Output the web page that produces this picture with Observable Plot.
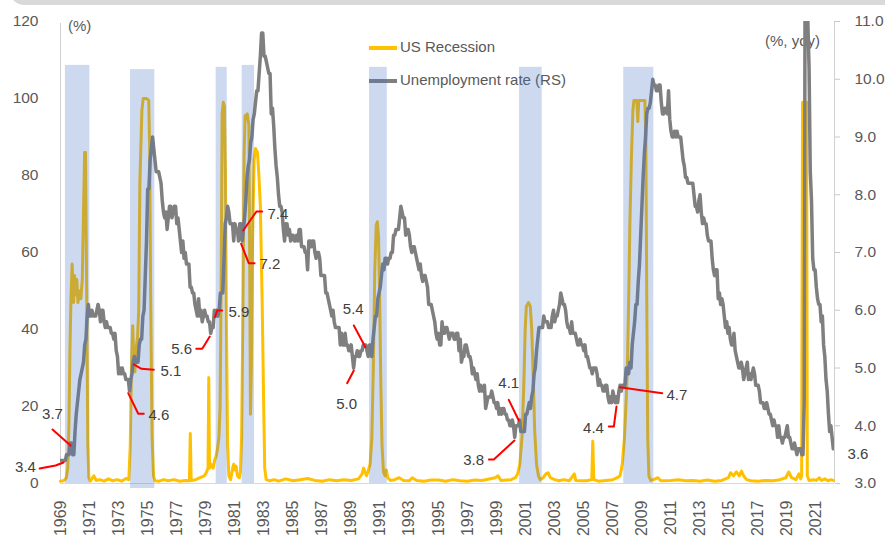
<!DOCTYPE html>
<html><head><meta charset="utf-8">
<script src="https://cdn.jsdelivr.net/npm/d3@7"></script>
<script src="https://cdn.jsdelivr.net/npm/@observablehq/plot@0.6"></script>
<style>
body{margin:0;background:#fff;font-family:"Liberation Sans",Arial,sans-serif;}
#wrap{position:relative;width:885px;height:547px;overflow:hidden;background:#fff;}
#band{position:absolute;left:10px;top:-15px;width:900px;height:20px;background:#d9d9d9;border-bottom-left-radius:14px;}
.t{position:absolute;font-size:15px;line-height:18px;color:#595959;white-space:nowrap;}
.sw{position:absolute;left:369px;width:28px;}
#chart{position:absolute;left:0;top:0;}
</style></head><body>
<div id="wrap">
  <div id="band"></div>
  <div class="sw" style="top:46px;height:3.5px;background:#FFC000"></div>
  <div class="t" style="left:400px;top:37.5px">US Recession</div>
  <div class="sw" style="top:78.5px;height:4px;background:#7f7f7f"></div>
  <div class="t" style="left:400px;top:70.5px">Unemployment rate (RS)</div>
  <div class="t" style="left:68px;top:17px">(%)</div>
  <div class="t" style="left:765px;top:32px">(%, yoy)</div>
  <div id="chart"></div>
</div>
<script>
// ---- data ----
const unemploymentStart = 1969; // monthly values from Jan 1969
const unemploymentRate = [
3.4,3.4,3.4,3.4,3.4,3.5,3.5,3.5,3.7,3.7,3.5,3.5,
3.9,4.2,4.4,4.6,4.8,4.9,5.0,5.1,5.4,5.5,5.9,6.1,
5.9,5.9,6.0,5.9,5.9,5.9,6.0,6.1,6.0,5.8,6.0,6.0,
5.8,5.7,5.8,5.7,5.7,5.7,5.6,5.6,5.5,5.6,5.3,5.2,
4.9,5.0,4.9,5.0,4.9,4.9,4.8,4.8,4.8,4.6,4.8,4.9,
5.1,5.2,5.1,5.1,5.1,5.4,5.5,5.5,5.9,6.0,6.6,7.2,
8.1,8.1,8.6,8.8,9.0,8.8,8.6,8.4,8.4,8.4,8.3,8.2,
7.9,7.7,7.6,7.7,7.4,7.6,7.8,7.8,7.6,7.7,7.8,7.8,
7.5,7.6,7.4,7.2,7.0,7.2,6.9,7.0,6.8,6.8,6.8,6.4,
6.4,6.3,6.3,6.1,6.0,5.9,6.2,5.9,6.0,5.8,5.9,6.0,
5.9,5.9,5.8,5.8,5.6,5.7,5.7,6.0,5.9,6.0,5.9,6.0,
6.3,6.3,6.3,6.9,7.5,7.6,7.8,7.7,7.5,7.5,7.5,7.2,
7.5,7.4,7.4,7.2,7.5,7.5,7.2,7.4,7.6,7.9,8.3,8.5,
8.6,8.9,9.0,9.3,9.4,9.6,9.8,9.8,10.1,10.4,10.8,10.8,
10.4,10.4,10.3,10.2,10.1,10.1,9.4,9.5,9.2,8.8,8.5,8.3,
8.0,7.8,7.8,7.7,7.4,7.2,7.5,7.5,7.3,7.4,7.2,7.3,
7.3,7.2,7.2,7.3,7.2,7.4,7.4,7.1,7.1,7.1,7.0,7.0,
6.7,7.2,7.2,7.1,7.2,7.2,7.0,6.9,7.0,7.0,6.9,6.6,
6.6,6.6,6.6,6.3,6.3,6.2,6.1,6.0,5.9,6.0,5.8,5.7,
5.7,5.7,5.7,5.4,5.6,5.4,5.4,5.6,5.4,5.4,5.3,5.3,
5.4,5.2,5.0,5.2,5.2,5.3,5.2,5.2,5.3,5.3,5.4,5.4,
5.4,5.3,5.2,5.4,5.4,5.2,5.5,5.7,5.9,5.9,6.2,6.3,
6.4,6.6,6.8,6.7,6.9,6.9,6.8,6.9,6.9,7.0,7.0,7.3,
7.3,7.4,7.4,7.4,7.6,7.8,7.7,7.6,7.6,7.3,7.4,7.4,
7.3,7.1,7.0,7.1,7.1,7.0,6.9,6.8,6.7,6.8,6.6,6.5,
6.6,6.6,6.5,6.4,6.1,6.1,6.1,6.0,5.9,5.8,5.6,5.5,
5.6,5.4,5.4,5.8,5.6,5.6,5.7,5.7,5.6,5.5,5.6,5.6,
5.6,5.5,5.5,5.6,5.6,5.3,5.5,5.1,5.2,5.2,5.4,5.4,
5.3,5.2,5.2,5.1,4.9,5.0,4.9,4.8,4.9,4.7,4.6,4.7,
4.6,4.6,4.7,4.3,4.4,4.5,4.5,4.5,4.6,4.5,4.4,4.4,
4.3,4.4,4.2,4.3,4.2,4.3,4.3,4.2,4.2,4.1,4.1,4.0,
4.0,4.1,4.0,3.8,4.0,4.0,4.0,4.1,3.9,3.9,3.9,3.9,
4.2,4.2,4.3,4.4,4.3,4.5,4.6,4.9,5.0,5.3,5.5,5.7,
5.7,5.7,5.7,5.9,5.8,5.8,5.8,5.7,5.7,5.7,5.9,6.0,
5.8,5.9,5.9,6.0,6.1,6.3,6.2,6.1,6.1,6.0,5.8,5.7,
5.7,5.6,5.8,5.6,5.6,5.6,5.5,5.4,5.4,5.5,5.4,5.4,
5.3,5.4,5.2,5.2,5.1,5.0,5.0,4.9,5.0,5.0,5.0,4.9,
4.7,4.8,4.7,4.7,4.6,4.6,4.7,4.7,4.5,4.4,4.5,4.4,
4.6,4.5,4.4,4.5,4.4,4.6,4.7,4.6,4.7,4.7,4.7,5.0,
5.0,4.9,5.1,5.0,5.4,5.6,5.8,6.1,6.1,6.5,6.8,7.3,
7.8,8.3,8.7,9.0,9.4,9.5,9.5,9.6,9.8,10.0,9.9,9.9,
9.8,9.8,9.9,9.9,9.6,9.4,9.4,9.5,9.5,9.4,9.8,9.3,
9.1,9.0,9.0,9.1,9.0,9.1,9.0,9.0,9.0,8.8,8.6,8.5,
8.3,8.3,8.2,8.2,8.2,8.2,8.2,8.0,7.8,7.8,7.7,7.9,
8.0,7.7,7.5,7.6,7.5,7.5,7.3,7.2,7.2,7.2,6.9,6.7,
6.6,6.7,6.7,6.2,6.3,6.1,6.2,6.1,5.9,5.7,5.8,5.6,
5.7,5.5,5.4,5.4,5.6,5.3,5.2,5.1,5.0,5.0,5.1,5.0,
4.8,4.9,5.0,5.1,4.8,4.9,4.8,4.9,5.0,4.9,4.7,4.7,
4.7,4.6,4.4,4.4,4.4,4.3,4.3,4.4,4.3,4.2,4.2,4.1,
4.0,4.1,4.0,4.0,3.8,4.0,3.8,3.8,3.7,3.8,3.8,3.9,
4.0,3.8,3.8,3.7,3.6,3.6,3.7,3.6,3.5,3.6,3.6,3.6,
3.5,3.5,4.4,14.7,13.2,11.0,10.2,8.4,7.9,6.9,6.7,6.7,
6.4,6.2,6.1,6.1,5.8,5.9,5.4,5.2,4.8,4.6,4.2,3.9,
4.0,3.8,3.6
];

// US recession probability (%), [year, value]
const usRecession = [
[1969.0,0.6],[1969.25,0.8],[1969.4,1.5],[1969.5,4],[1969.58,15],[1969.65,35],[1969.72,48],[1969.8,57],[1969.85,52],[1969.9,47],[1969.97,54],[1970.05,49],[1970.12,53],[1970.2,47],[1970.3,50],[1970.4,48],[1970.5,53],[1970.58,70],[1970.66,86],[1970.72,86],[1970.8,50],[1970.88,10],[1970.95,1.5],
[1971.05,0.6],[1971.3,2],[1971.45,0.8],[1971.7,1],[1972.0,0.6],[1972.3,1.2],[1972.6,0.7],[1972.9,1],[1973.2,0.6],[1973.5,1.3],[1973.7,1],
[1973.8,10],[1973.88,30],[1973.97,41],[1974.04,32],[1974.12,29],[1974.2,35],[1974.3,38],[1974.38,45],[1974.46,78],[1974.6,97],[1974.69,100],[1974.9,100],[1975.07,99.5],[1975.13,88],[1975.2,50],[1975.3,12],[1975.4,2],[1975.5,0.7],
[1975.8,0.6],[1976.1,1],[1976.4,0.7],[1976.8,1],[1977.2,0.6],[1977.6,0.8],[1977.87,0.7],[1977.93,13],[1977.99,0.8],[1978.3,1],[1978.6,1.5],[1978.9,2],[1979.05,3],[1979.15,4],[1979.2,27.5],[1979.25,4],[1979.35,5],[1979.5,4],[1979.6,6],[1979.7,7],[1979.8,9],[1979.9,12],[1979.98,20],[1980.05,50],[1980.12,96],[1980.2,99],[1980.28,98],[1980.35,80],[1980.42,40],[1980.5,10],[1980.58,2],[1980.7,1],[1980.85,4],[1980.92,5],[1981.0,3.5],[1981.08,4.5],[1981.17,2],[1981.3,1.5],
[1981.38,3],[1981.46,12],[1981.55,45],[1981.63,85],[1981.7,95.5],[1981.85,96],[1981.96,93],[1982.02,55],[1982.07,18],[1982.13,30],[1982.22,65],[1982.32,84],[1982.42,87],[1982.55,86],[1982.65,80],[1982.75,72],[1982.88,46],[1982.98,20],[1983.05,4],[1983.15,1],
[1983.4,0.7],[1983.7,1],[1984.0,0.6],[1984.5,1.2],[1985.0,0.7],[1985.5,1],[1986.0,1.3],[1986.5,0.8],[1987.0,0.6],[1987.5,1],[1988.0,0.7],[1988.5,1],[1989.0,0.8],[1989.5,1.2],[1989.75,2.5],[1989.85,4],[1989.95,3],[1990.05,2],[1990.15,3],
[1990.3,5],[1990.42,12],[1990.52,30],[1990.62,55],[1990.72,67],[1990.8,68],[1990.88,64],[1990.95,50],[1991.03,28],[1991.12,10],[1991.22,3],[1991.32,2],[1991.42,3.5],[1991.52,1.5],[1991.7,0.8],
[1992.0,1],[1992.3,1.5],[1992.6,0.8],[1993.0,0.7],[1993.2,1.5],[1993.5,0.8],[1994.0,0.6],[1994.5,0.9],[1995.0,0.9],[1995.5,0.6],[1996.0,1],[1996.5,0.7],[1997.0,0.6],[1997.5,0.9],[1998.0,0.8],[1998.9,1.5],[1999.1,2],[1999.3,0.8],[2000.0,1],[2000.3,1.5],
[2000.45,2.5],[2000.6,5],[2000.75,12],[2000.87,25],[2000.97,40],[2001.05,46],[2001.2,47],[2001.32,46],[2001.42,40],[2001.52,28],[2001.62,14],[2001.75,5],[2001.88,2],[2002.0,1],
[2002.2,1.5],[2002.4,2.5],[2002.55,2.8],[2002.7,1.5],[2003.0,1],[2003.3,0.7],[2003.6,1],[2004.0,0.7],[2004.35,2.5],[2004.45,0.8],[2004.8,0.7],[2005.2,0.7],[2005.55,1],[2005.62,11],[2005.69,1],[2006.0,0.6],[2006.5,0.8],[2007.0,1],[2007.3,1.5],
[2007.5,2],[2007.65,5],[2007.8,12],[2007.92,22],[2008.0,30],[2008.1,50],[2008.17,67],[2008.28,85],[2008.38,97],[2008.45,99.5],[2008.65,99.5],[2008.72,94],[2008.78,99.5],[2009.2,99.5],[2009.27,90],[2009.33,50],[2009.4,12],[2009.48,2],[2009.6,0.8],
[2009.8,1],[2010.1,1.5],[2010.3,0.7],[2011.0,0.8],[2011.5,1],[2012.0,0.7],[2012.5,0.8],[2013.0,0.6],[2013.5,0.9],[2014.0,0.6],[2014.5,0.8],[2014.95,1.5],[2015.1,2.8],[2015.3,2],[2015.5,3],[2015.7,2],[2015.85,3.2],[2016.0,2],[2016.2,1],[2016.5,0.7],[2017.0,0.6],[2017.5,0.8],[2018.0,0.7],[2018.5,1],[2018.9,1.5],[2019.1,3],[2019.3,1.5],[2019.6,1],[2019.8,2.5],[2019.92,1.2],
[2019.99,2],[2020.05,99],[2020.33,99],[2020.38,2],[2020.5,0.8],[2020.8,1],[2021.0,0.8],[2021.2,1.5],[2021.35,0.8],[2021.6,1.2],[2021.8,0.7],[2022.0,1],[2022.17,0.8]
];

// shaded recession periods: start, end (year), top, bottom (left-axis units)
const recessionStart = [1969.34, 1973.82, 1979.71, 1981.50, 1990.26, 2000.58, 2007.75];
const recessionEnd   = [1971.02, 1975.49, 1980.47, 1982.35, 1991.48, 2002.14, 2009.82];
const recessionTop   = [108.6, 107.5, 108.1, 108.6, 108.1, 108.1, 108.1];
const recessionBottom= [0, -1.3, 0, 0, 0, 0, 0];

// tick labels
const leftTicks = [0, 20, 40, 60, 80, 100, 120];
const rightTicks = [3, 4, 5, 6, 7, 8, 9, 10, 11];
const yearTicks = [1969,1971,1973,1975,1977,1979,1981,1983,1985,1987,1989,1991,1993,1995,1997,1999,2001,2003,2005,2007,2009,2011,2013,2015,2017,2019,2021];

// annotations: label, text position (year, rate), anchor, leader line points (year, rate)
const annotLabels = ["3.4","3.7","4.6","5.1","5.6","5.9","7.4","7.2","5.4","5.0","4.1","3.8","4.4","4.7","3.6"];
const annotTextPos = [[1967.31,3.28],[1968.45,4.203],[1975.05,4.177],[1975.88,4.948],[1978.05,5.32],[1980.56,5.97],[1983.24,7.667],[1982.69,6.797],[1989.14,6.013],[1988.68,4.38],[1999.84,4.74],[1998.14,3.398],[2006.39,3.961],[2010.69,4.524],[2023.15,3.511]];
const annotAnchor = ["end","middle","start","start","end","start","start","start","middle","middle","middle","end","end","start","start"];
const annotLeaders = [
  [[1969.21,3.364],[1968.66,3.312],[1967.56,3.26]],
  [[1969.69,3.658],[1968.45,3.935]],
  [[1973.66,4.564],[1974.35,4.207],[1974.73,4.207]],
  [[1974.04,5.061],[1974.57,4.986],[1975.42,4.969]],
  [[1979.27,5.545],[1978.75,5.332],[1978.34,5.332]],
  [[1979.62,5.88],[1979.78,5.996],[1980.12,5.996]],
  [[1981.57,7.381],[1982.48,7.71],[1982.88,7.71]],
  [[1981.43,7.151],[1981.95,6.815],[1982.35,6.815]],
  [[1989.18,5.736],[1989.98,5.36]],
  [[1988.72,4.737],[1989.18,4.957]],
  [[1999.84,4.449],[2000.53,4.091]],
  [[2000.23,3.745],[1998.81,3.416],[1998.47,3.416]],
  [[2007.25,4.333],[2007.07,3.987],[2006.72,3.987]],
  [[2007.48,4.668],[2010.40,4.564]],
  []
];

// ---- build tables ----
const toLeft = u => (u - 3) * 15;   // right axis 3..11 onto left axis 0..120
const unempRows = unemploymentRate.map((u, i) => ({t: unemploymentStart + i / 12, y: toLeft(u)}));
const recRows = usRecession.map(([t, v]) => ({t, v}));
const shadeRows = recessionStart.map((s, i) => ({x1: s, x2: recessionEnd[i], y1: recessionBottom[i], y2: recessionTop[i]}));
const textRows = annotLabels.map((l, i) => ({label: l, t: annotTextPos[i][0], y: toLeft(annotTextPos[i][1]), anchor: annotAnchor[i]}));
const leaderRows = annotLeaders.flatMap((pts, i) => pts.map(([t, u]) => ({id: i, t, y: toLeft(u)})));

const anchors = ["start", "middle", "end"];
const chart = Plot.plot({
  width: 885, height: 547,
  marginLeft: 60, marginRight: 51, marginTop: 21, marginBottom: 64,
  x: {domain: [1969, 2022.25]},
  y: {domain: [0, 120]},
  style: {fontFamily: "Liberation Sans, Arial, sans-serif", fontSize: "15.5px", color: "#595959", background: "transparent", overflow: "visible"},
  marks: [
    Plot.ruleY([0], {stroke: "#d9d9d9", strokeWidth: 1}),
    Plot.ruleX([1969], {stroke: "#d0d0d0", strokeWidth: 1, y1: 0, y2: 119.5}),
    Plot.ruleX([2022.25], {stroke: "#d0d0d0", strokeWidth: 1, y1: 0, y2: 120}),
    Plot.axisY({anchor: "left", ticks: leftTicks, tickSize: 0, tickPadding: 22, label: null, fill: "#595959"}),
    Plot.axisY({anchor: "right", ticks: rightTicks.map(toLeft), tickFormat: d => (3 + d / 15).toFixed(1), tickSize: 5, tickPadding: 15, label: null, stroke: "#c8c8c8", fill: "#595959"}),
    Plot.axisX({ticks: yearTicks, tickFormat: d => String(d), tickRotate: -90, tickSize: 0, tickPadding: 17, label: null, fontSize: 16, fill: "#595959", letterSpacing: "1.5px"}),
    Plot.line(recRows, {x: "t", y: "v", stroke: "#FFC000", strokeWidth: 3, curve: "linear"}),
    Plot.line(unempRows, {x: "t", y: "y", stroke: "#7f7f7f", strokeWidth: 3.5, clip: true}),
    Plot.rect(shadeRows, {x1: "x1", x2: "x2", y1: "y1", y2: "y2", fill: "#4472C4", fillOpacity: 0.27}),
    Plot.line(leaderRows, {x: "t", y: "y", z: "id", stroke: "#ff0000", strokeWidth: 2}),
    ...anchors.map(a => Plot.text(textRows.filter(d => d.anchor === a), {x: "t", y: "y", text: "label", textAnchor: a, fill: "#404040", fontSize: 15}))
  ]
});
document.getElementById("chart").appendChild(chart);
</script>
</body></html>
